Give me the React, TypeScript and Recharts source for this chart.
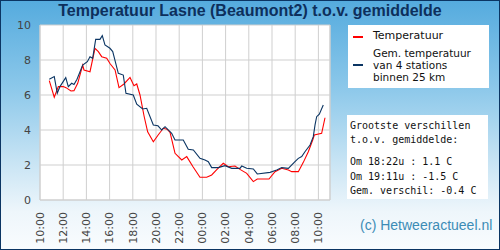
import React from 'react';
import { LineChart, Line, XAxis, YAxis, CartesianGrid, ReferenceLine } from 'recharts';

// hours since 10:00 on the first day
const tempHours = [
  0.8, 1.23, 1.58, 2.01, 2.24, 2.67, 2.93, 3.25, 3.68, 3.79, 4.31, 4.74, 5.03, 5.32, 5.75, 6.03, 6.47, 6.81, 7.24,
  7.76, 8.1, 8.34, 8.62, 8.97, 9.28, 9.77, 10.17, 10.63, 10.95, 11.21, 11.64, 12.22, 12.65, 13.19, 13.79, 14.37,
  14.8, 15.26, 15.8, 16.23, 16.81, 17.24, 17.82, 18.39, 18.73, 19.74, 20.26, 20.84, 21.41, 21.7, 22.27, 22.7,
  23.13, 23.51, 23.65, 24.28, 24.57,
];
const tempValues = [
  6.82, 5.87, 6.48, 6.48, 6.42, 6.23, 6.25, 6.67, 7.71, 7.43, 7.33, 8.67, 8.48, 8.19, 8.1, 7.8, 7.43, 6.42, 6.63,
  7.0, 6.53, 6.63, 6.0, 4.8, 3.9, 3.33, 3.7, 4.1, 4.05, 3.87, 2.67, 2.29, 2.48, 1.9, 1.3, 1.3,
  1.43, 1.75, 2.1, 1.9, 1.94, 1.75, 1.52, 1.05, 1.2, 1.2, 1.62, 1.81, 1.71, 1.62, 1.62, 2.15,
  2.76, 3.43, 3.71, 3.81, 4.7,
];

const avgHours = [
  0.8, 1.23, 1.49, 1.72, 2.22, 2.44, 2.73, 2.93, 3.19, 3.45, 3.68, 4.08, 4.31, 4.54, 4.8, 5.17, 5.37, 5.6, 6.03,
  6.27, 6.75, 7.18, 7.41, 8.04, 8.34, 8.85, 9.2, 9.77, 10.17, 10.49, 10.78, 11.35, 11.64, 12.35, 12.78, 13.22,
  13.79, 14.22, 14.51, 14.8, 15.37, 15.95, 16.53, 17.24, 17.39, 17.82, 18.39, 18.73, 19.83, 20.41, 20.84, 21.41,
  21.98, 22.27, 22.56, 22.84, 23.28, 23.56, 23.71, 23.85, 24.08, 24.42,
];
const avgValues = [
  6.9, 7.05, 6.1, 6.48, 6.99, 6.48, 6.67, 6.6, 6.9, 7.33, 7.71, 7.9, 8.19, 8.1, 9.18, 9.18, 9.39, 8.86, 8.67,
  8.48, 7.24, 7.14, 6.1, 6.0, 5.47, 5.2, 5.24, 4.29, 4.24, 4.0, 4.19, 3.81, 3.43, 3.43, 2.9, 2.86,
  2.38, 2.29, 2.19, 1.85, 1.85, 1.96, 1.81, 1.81, 1.94, 1.81, 1.77, 1.49, 1.58, 1.71, 1.85, 1.81,
  2.19, 2.38, 2.48, 2.76, 3.14, 3.62, 4.29, 4.76, 4.9, 5.43,
];

const xTicks = [0, 2, 4, 6, 8, 10, 12, 14, 16, 18, 20, 22, 24];
const xTickLabels = ['10:00', '12:00', '14:00', '16:00', '18:00', '20:00', '22:00', '00:00', '02:00', '04:00', '06:00', '08:00', '10:00'];
const yTicks = [0, 2, 4, 6, 8, 10];

const legendAvgLines = ['Gem. temperatuur', 'van 4 stations', 'binnen 25 km'];
const infoLines = ['Grootste verschillen', 't.o.v. gemiddelde:', '', 'Om 18:22u : 1.1 C', 'Om 19:11u : -1.5 C', 'Gem. verschil: -0.4 C'];

const tempData = tempHours.map((t, i) => ({ t, v: tempValues[i] }));
const avgData = avgHours.map((t, i) => ({ t, v: avgValues[i] }));

const FONT = '"DejaVu Sans", Verdana, sans-serif';
const GRID = '#cfcfcf';

const XTick = ({ x, y, payload }: any) => {
  const idx = xTicks.indexOf(payload.value);
  return (
    <text
      x={x}
      y={y}
      transform={`rotate(-90, ${x}, ${y})`}
      textAnchor="end"
      dy="0.35em"
      fontSize={11}
      fontFamily={FONT}
      fill="#444"
    >
      {xTickLabels[idx]}
    </text>
  );
};

export default function App() {
  return (
    <div
      style={{
        position: 'absolute',
        left: 0,
        top: 0,
        width: 500,
        height: 250,
        boxSizing: 'border-box',
        border: '1px solid #0b3563',
        background: 'linear-gradient(to bottom, #55abde 0%, #8cc8ea 35%, #c8e4f4 65%, #eef6fb 85%, #f9fcfe 100%)',
        overflow: 'hidden',
      }}
    >
      <div
        style={{
          position: 'absolute',
          left: 0,
          top: 1,
          width: 498,
          textAlign: 'center',
          fontFamily: '"Liberation Sans", Arial, sans-serif',
          fontWeight: 'bold',
          fontSize: 16,
          color: '#0d2f5c',
          lineHeight: '18px',
        }}
      >
        Temperatuur Lasne (Beaumont2) t.o.v. gemiddelde
      </div>
      <div style={{ position: 'absolute', left: -1, top: -1 }}>
        <LineChart width={500} height={250} margin={{ top: 25, right: 170, bottom: 0, left: 0 }}>
          <CartesianGrid stroke={GRID} fill="#ffffff" vertical horizontal />
          <XAxis
            dataKey="t"
            type="number"
            domain={[0, 25]}
            ticks={xTicks}
            interval={0}
            height={50}
            tick={<XTick />}
            tickLine={false}
            tickSize={0}
            tickMargin={12}
            axisLine={{ stroke: GRID }}
            allowDuplicatedCategory={false}
          />
          <YAxis
            type="number"
            domain={[0, 10]}
            ticks={yTicks}
            width={40}
            tickLine={false}
            tickSize={0}
            tickMargin={9}
            axisLine={{ stroke: GRID }}
            tick={{ fontSize: 11, fontFamily: FONT, fill: '#444' }}
          />
          <ReferenceLine x={25} stroke={GRID} />
          <Line
            data={tempData}
            dataKey="v"
            type="linear"
            stroke="#ff0000"
            strokeWidth={1.1}
            dot={false}
            isAnimationActive={false}
          />
          <Line
            data={avgData}
            dataKey="v"
            type="linear"
            stroke="#0b3563"
            strokeWidth={1.1}
            dot={false}
            isAnimationActive={false}
          />
        </LineChart>
      </div>

      <div
        style={{
          position: 'absolute',
          left: 347,
          top: 24,
          width: 141,
          height: 63,
          background: '#fff',
          fontFamily: FONT,
          fontSize: 11,
          color: '#111',
        }}
      >
        <div style={{ position: 'absolute', left: 5, top: 11, width: 10, height: 2, background: '#ff0000' }} />
        <div style={{ position: 'absolute', left: 25, top: 5, lineHeight: '11px' }}>Temperatuur</div>
        <div style={{ position: 'absolute', left: 5, top: 39, width: 10, height: 2, background: '#0b3563' }} />
        {legendAvgLines.map((line, i) => (
          <div
            key={i}
            style={{ position: 'absolute', left: 25, top: 23 + i * 12, fontSize: 10.5, lineHeight: '11px', whiteSpace: 'nowrap' }}
          >
            {line}
          </div>
        ))}
      </div>

      <div
        style={{
          position: 'absolute',
          left: 346,
          top: 114,
          width: 141,
          height: 84,
          background: '#fff',
          fontFamily: '"DejaVu Sans Mono", monospace',
          fontSize: 10,
          color: '#111',
        }}
      >
        {infoLines.map((line, i) => {
          const tops = [5, 19, 0, 41, 56, 70];
          if (!line) return null;
          return (
            <div key={i} style={{ position: 'absolute', left: 3, top: tops[i], whiteSpace: 'pre', lineHeight: '12px' }}>
              {line}
            </div>
          );
        })}
      </div>

      <div
        style={{
          position: 'absolute',
          left: 359,
          top: 216,
          fontFamily: '"Liberation Sans", Arial, sans-serif',
          fontSize: 14,
          color: '#3c8cb6',
          whiteSpace: 'nowrap',
        }}
      >
        (c) Hetweeractueel.nl
      </div>
    </div>
  );
}
